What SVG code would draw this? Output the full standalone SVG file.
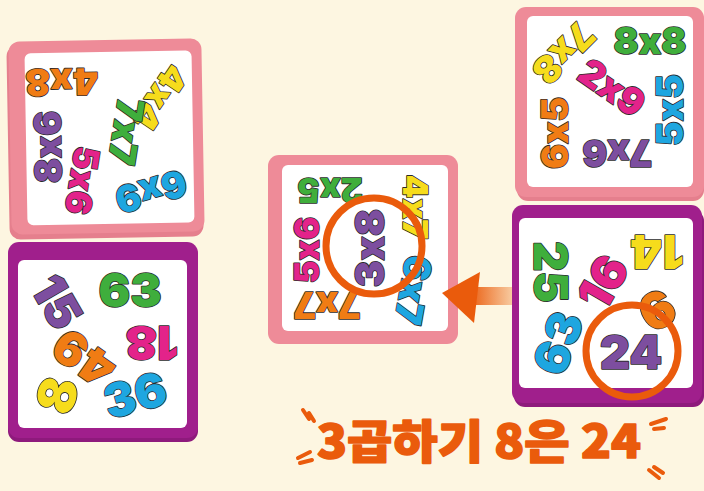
<svg xmlns="http://www.w3.org/2000/svg" width="704" height="491" viewBox="0 0 704 491">
<defs>
<style>
.bg{fill:#FDF6E1}
.pk{fill:#EE8B98}
.pk2{fill:#E57F8D}
.pu{fill:#A01F8C}
.pu2{fill:#8E1A7C}
.in{fill:#FFFFFF}
text.n{font-family:"Inter","Noto Sans",sans-serif;font-weight:900;text-anchor:middle;stroke:#2b2b2b;stroke-width:1.6;paint-order:stroke fill;stroke-linejoin:round;font-feature-settings:"calt" 0}
.m{font-size:37px}.s{font-size:35px}.l{font-size:47px}
.o{fill:#F07C14}.y{fill:#F6DC1C}.g{fill:#3FAE3C}.v{fill:#7D4E9F}.p{fill:#E3238A}.b{fill:#1EA6E0}
.ring{fill:none;stroke:#EA5B0C;stroke-width:7}
.mark{stroke:#EA5B0C;stroke-width:4;stroke-linecap:round;fill:none}
</style>
<linearGradient id="shaft" gradientUnits="userSpaceOnUse" x1="468" y1="0" x2="514" y2="0">
<stop offset="0" stop-color="#EA5B0C"/>
<stop offset="1" stop-color="#F8CFA6"/>
</linearGradient>
</defs>
<rect class="bg" x="0" y="0" width="704" height="491"/>

<g id="card-top-left" transform="rotate(-1 105 138)">
<rect class="pk2" x="8" y="44" width="194" height="194" rx="11"/>
<rect class="pk" x="10" y="40" width="193" height="193" rx="11"/>
<rect class="in" x="26" y="52" width="167" height="172" rx="6"/>
<text class="n m o" transform="translate(63 81) rotate(180)" dy="13">4x8</text>
<text class="n s y" transform="translate(160 98) rotate(125)" dy="12">4x4</text>
<text class="n m g" transform="translate(126 132) rotate(100)" dy="13">7x7</text>
<text class="n m v" transform="translate(48 146) rotate(-90)" dy="13">8x6</text>
<text class="n s p" transform="translate(81 180) rotate(100)" dy="12">5x6</text>
<text class="n m b" transform="translate(150 192) rotate(165)" dy="13">6x9</text>
</g>

<g id="card-bottom-left">
<rect class="pu2" x="8" y="246" width="190" height="196" rx="11"/>
<rect class="pu" x="8" y="242" width="190" height="196" rx="11"/>
<rect class="in" x="18" y="260" width="169" height="168" rx="6"/>
<text class="n l v" transform="translate(57 302) rotate(60)" dy="17">15</text>
<text class="n l g" transform="translate(130 290) rotate(0)" dy="17">63</text>
<text class="n l p" transform="translate(152 343) rotate(180)" dy="17">18</text>
<text class="n l o" transform="translate(84 358) rotate(215)" dy="17">49</text>
<text class="n y" style="font-size:52px" transform="translate(57 395) rotate(-75)" dy="19">8</text>
<text class="n l b" transform="translate(135 395) rotate(-15)" dy="17">36</text>
</g>

<g id="card-center">
<rect class="pk" x="268" y="155" width="190" height="189" rx="11"/>
<rect class="in" x="282" y="165" width="166" height="166" rx="6"/>
<text class="n g" style="font-size:34px" transform="translate(330 190) rotate(180)" dy="12">2x5</text>
<text class="n y" style="font-size:34px" transform="translate(415 207) rotate(90)" dy="12">4x7</text>
<text class="n p" style="font-size:34px" transform="translate(307 250) rotate(-90)" dy="12">5x6</text>
<text class="n m o" transform="translate(327 305) rotate(180)" dy="13">7x7</text>
<text class="n m b" transform="translate(413 290) rotate(100)" dy="13">6x7</text>
<text class="n v" style="font-size:40px" transform="translate(370 248) rotate(-90)" dy="14">3x8</text>
<circle class="ring" cx="374" cy="246" r="48"/>
</g>

<g id="card-top-right">
<rect class="pk2" x="517" y="12" width="187" height="189" rx="11"/>
<rect class="pk" x="515" y="7" width="189" height="190" rx="11"/>
<rect class="in" x="527" y="16" width="166" height="171" rx="6"/>
<text class="n m y" transform="translate(563 53) rotate(135)" dy="13">7x8</text>
<text class="n m g" transform="translate(650 41) rotate(0)" dy="13">8x8</text>
<text class="n m p" transform="translate(612 88) rotate(35)" dy="13">2x9</text>
<text class="n m b" transform="translate(670 110) rotate(-90)" dy="13">5x5</text>
<text class="n m o" transform="translate(555 133) rotate(-90)" dy="13">6x5</text>
<text class="n m v" transform="translate(617 153) rotate(180)" dy="13">7x6</text>
</g>

<g id="connectors">
<path d="M470 287 H514 V305 H470 Z" fill="url(#shaft)"/>
<path d="M442 293 L480 272 L474 323 Z" fill="#EA5B0C"/>
</g>

<g id="card-bottom-right">
<rect class="pu2" x="514" y="210" width="190" height="197" rx="11"/>
<rect class="pu" x="512" y="205" width="190" height="198" rx="11"/>
<rect class="in" x="519" y="218" width="174" height="170" rx="6"/>
<text class="n l g" transform="translate(551 272) rotate(90)" dy="17">25</text>
<text class="n l p" transform="translate(603 282) rotate(-60)" dy="17">16</text>
<text class="n l y" transform="translate(657 252) rotate(180)" dy="17">14</text>
<text class="n o" style="font-size:50px" transform="translate(657 310) rotate(150)" dy="18">9</text>
<text class="n l b" transform="translate(558 343) rotate(-70)" dy="17">63</text>
<text class="n l v" transform="translate(631 352) rotate(0)" dy="17">24</text>
<circle class="ring" cx="632" cy="351" r="46"/>
</g>

<g id="caption">
<text x="317" y="458" textLength="324" lengthAdjust="spacingAndGlyphs" font-family="'Noto Sans CJK KR',sans-serif" font-weight="900" font-size="46" fill="#EA5B0C" stroke="#EA5B0C" stroke-width="1.6" stroke-linejoin="round">3곱하기 8은 24</text>
<path class="mark" d="M303 410 L309 419 M309 413 L314 421"/>
<path class="mark" d="M298 458 L310 452 M300 463 L312 460"/>
<path class="mark" d="M651 424 L666 419 M654 429 L664 428"/>
<path class="mark" d="M649 470 L659 478 M654 467 L663 473"/>
</g>
</svg>
